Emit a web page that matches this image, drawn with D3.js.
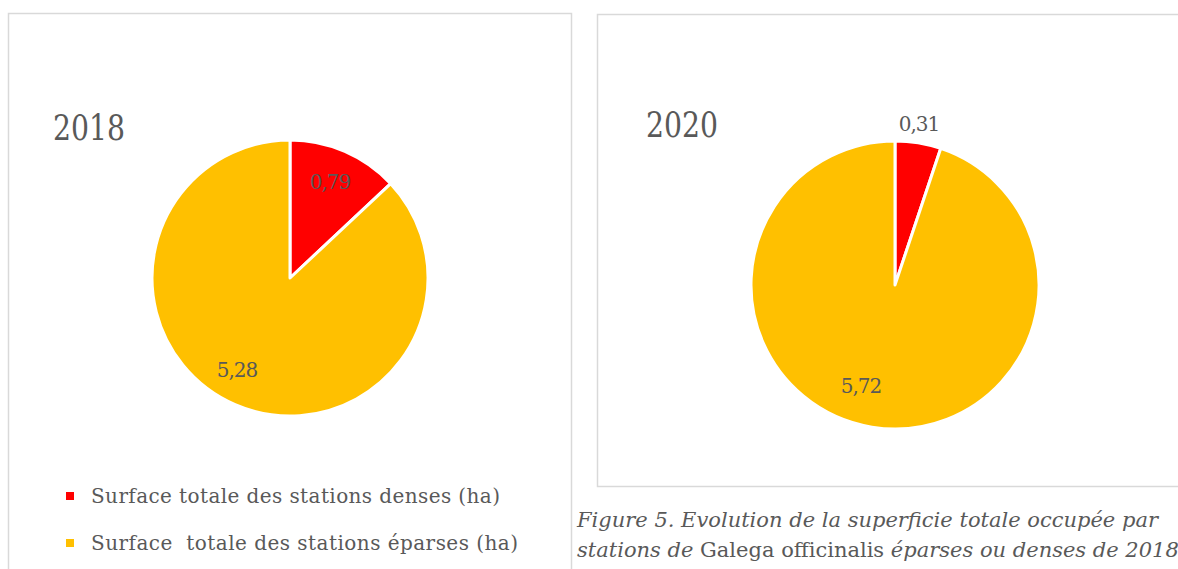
<!DOCTYPE html>
<html>
<head>
<meta charset="utf-8">
<script src="https://cdn.jsdelivr.net/npm/d3@7"></script>
<style>
  body { margin: 0; background: #fff; }
  svg { display: block; }
  text { font-family: "DejaVu Serif", "Liberation Serif", serif; fill: #595959; }
</style>
</head>
<body>
<svg id="chart" width="1178" height="569"></svg>
<script>
// data
const categories = ["Surface totale des stations denses (ha)", "Surface  totale des stations éparses (ha)"];
const years = ["2018", "2020"];
const values2018 = [0.79, 5.28];
const values2020 = [0.31, 5.72];
const colors = ["#ff0000", "#ffc000"];

const svg = d3.select("#chart");
const fmt = v => String(v).replace(".", ",");

// panel frames
svg.append("rect").attr("x", 8.5).attr("y", 13.5).attr("width", 563).attr("height", 600)
  .attr("fill", "none").attr("stroke", "#d9d9d9").attr("stroke-width", 1.5);
svg.append("rect").attr("x", 597.5).attr("y", 14.5).attr("width", 620).attr("height", 472)
  .attr("fill", "none").attr("stroke", "#d9d9d9").attr("stroke-width", 1.5);

const pie = d3.pie().sort(null).value(d => d);

function drawPie(values, cx, cy, r, year, titlePos, labelPos) {
  const g = svg.append("g").attr("transform", `translate(${cx},${cy})`);
  const arc = d3.arc().innerRadius(0).outerRadius(r);
  const arcs = pie(values);
  g.selectAll("path").data(arcs).enter().append("path")
    .attr("d", arc)
    .attr("fill", (d, i) => colors[i])
    .attr("stroke", "#fff")
    .attr("stroke-width", 3)
    .attr("stroke-linejoin", "round");

  g.selectAll("text.lbl").data(arcs).enter().append("text")
    .attr("class", "lbl")
    .attr("x", (d, i) => labelPos[i][0])
    .attr("y", (d, i) => labelPos[i][1])
    .attr("text-anchor", "middle")
    .attr("font-size", 20)
    .attr("letter-spacing", -1)
    .text(d => fmt(d.data));

  svg.append("text")
    .attr("x", titlePos[0]).attr("y", titlePos[1])
    .attr("font-size", 36)
    .attr("textLength", 72)
    .attr("lengthAdjust", "spacingAndGlyphs")
    .text(year);
}

drawPie(values2018, 290, 278, 138, years[0], [53, 140], [[40, -89], [-53, 99]]);
drawPie(values2020, 895, 285, 144, years[1], [646, 137], [[24, -154], [-34, 108]]);

// legend
const legend = svg.append("g");
categories.forEach((c, i) => {
  const y = 495 + i * 47;
  legend.append("rect").attr("x", 66).attr("y", y - 3).attr("width", 8).attr("height", 8)
    .attr("fill", colors[i]);
  legend.append("text").attr("x", 91).attr("y", y + 8)
    .attr("font-size", 20).style("white-space", "pre")
    .attr("textLength", i === 0 ? 409 : 427)
    .text(c);
});

// caption (cut at the right edge in the source, kept to what is visible)
const cap1 = svg.append("text").attr("x", 577).attr("y", 527).attr("font-size", 21)
  .attr("font-style", "italic");
cap1.text("Figure 5. Evolution de la superficie totale occupée par");
const cap2 = svg.append("text").attr("x", 577).attr("y", 557).attr("font-size", 21);
cap2.append("tspan").attr("font-style", "italic").text("stations de ");
cap2.append("tspan").text("Galega officinalis ");
cap2.append("tspan").attr("font-style", "italic").text("éparses ou denses de 2018");
</script>
</body>
</html>
